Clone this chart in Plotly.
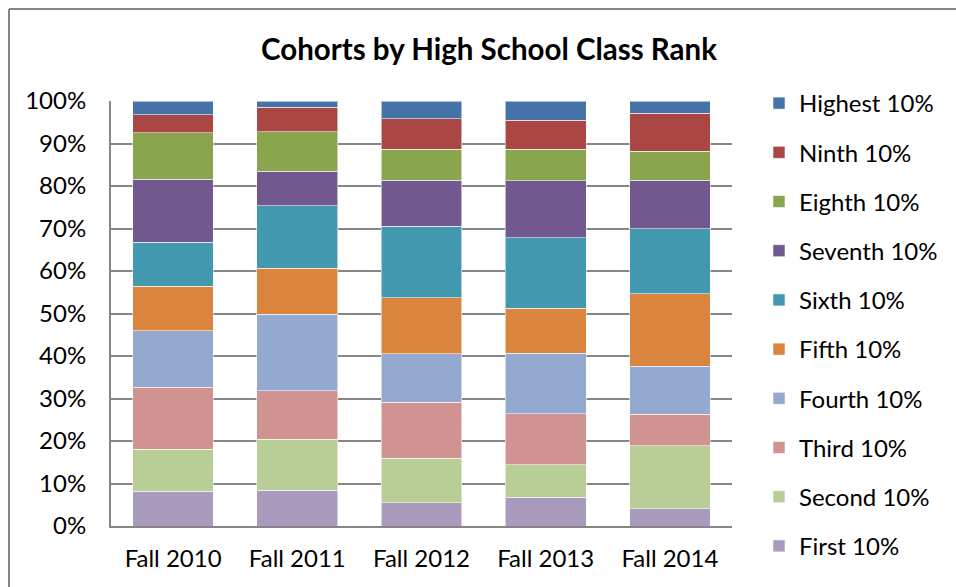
import plotly.graph_objects as go

categories = ["Fall 2010", "Fall 2011", "Fall 2012", "Fall 2013", "Fall 2014"]

first_10 = [8.2, 8.4, 5.5, 6.8, 4.1]
second_10 = [9.9, 12.0, 10.5, 7.6, 14.8]
third_10 = [14.5, 11.4, 13.1, 12.0, 7.4]
fourth_10 = [13.4, 18.0, 11.4, 14.2, 11.3]
fifth_10 = [10.4, 10.9, 13.2, 10.6, 17.1]
sixth_10 = [10.4, 14.6, 16.8, 16.6, 15.3]
seventh_10 = [14.8, 8.2, 10.8, 13.4, 11.3]
eighth_10 = [10.9, 9.3, 7.4, 7.5, 6.9]
ninth_10 = [4.3, 5.7, 7.1, 6.8, 8.9]
highest_10 = [3.2, 1.5, 4.2, 4.5, 2.9]

series_names = ["First 10%", "Second 10%", "Third 10%", "Fourth 10%", "Fifth 10%",
                "Sixth 10%", "Seventh 10%", "Eighth 10%", "Ninth 10%", "Highest 10%"]
series_values = [first_10, second_10, third_10, fourth_10, fifth_10,
                 sixth_10, seventh_10, eighth_10, ninth_10, highest_10]
series_colors = ["#A99BBD", "#B9CD96", "#D19392", "#93A9CF", "#DB843D",
                 "#4198AF", "#71588F", "#89A54E", "#AA4643", "#4572A7"]

y_ticks = [0, 10, 20, 30, 40, 50, 60, 70, 80, 90, 100]
y_tick_labels = [f"{v}%" for v in y_ticks]

FONT = "Lato"

fig = go.Figure()
n = len(series_names)
for i, (name, vals, col) in enumerate(zip(series_names, series_values, series_colors)):
    fig.add_trace(go.Bar(
        x=categories, y=vals, name=name, legendgroup=name, legendrank=n - i,
        marker=dict(color=col, line=dict(color="rgba(255,255,255,0.55)", width=1)),
    ))

# body margin is removed by the post script, so figure coords == page coords
W, H = 956, 587
L, T = 111, 101
pw, ph = 621, 425
R = W - L - pw
B = H - T - ph
bottom = T + ph

border = dict(color="#868686", width=2)

fig.update_layout(
    width=W, height=H,
    margin=dict(l=L, r=R, t=T, b=B, autoexpand=False),
    barmode="stack", bargap=0.35,
    plot_bgcolor="white", paper_bgcolor="white",
    font=dict(family=FONT, size=24, color="black"),
    title=dict(text="<b>Cohorts by High School Class Rank</b>",
               font=dict(family=FONT, size=29.5, color="black"),
               x=489 / W, xanchor="center", xref="container",
               y=1 - 50 / H, yanchor="middle", yref="container"),
    legend=dict(x=(759 - L) / pw, xanchor="left", y=(bottom - 81) / ph, yanchor="top",
                traceorder="grouped", tracegroupgap=15, maxheight=600,
                font=dict(family=FONT, size=24, color="black"),
                bgcolor="rgba(0,0,0,0)"),
    showlegend=True,
    xaxis=dict(showline=True, linecolor="#868686", linewidth=2,
               ticks="", tickfont=dict(family=FONT, size=24, color="black"),
               ticklabelstandoff=10),
    yaxis=dict(range=[0, 100], tickvals=y_ticks, ticktext=y_tick_labels,
               showline=True, linecolor="#868686", linewidth=2,
               showgrid=True, gridcolor="#868686", gridwidth=2,
               ticks="", tickfont=dict(family=FONT, size=24, color="black"),
               ticklabelstandoff=18, zeroline=False),
    shapes=[
        dict(type="line", xref="paper", yref="paper",
             x0=(9 - L) / pw, x1=(9 - L) / pw,
             y0=(bottom - H) / ph, y1=(bottom - 9) / ph,
             line=border, layer="below"),
        dict(type="line", xref="paper", yref="paper",
             x0=(9 - L) / pw, x1=(W - L) / pw,
             y0=(bottom - 9) / ph, y1=(bottom - 9) / ph,
             line=border, layer="below"),
    ],
)

fig.write_html(
    "out.html",
    config={"displayModeBar": False},
    post_script="document.body.style.margin='0';"
                "document.body.style.overflow='hidden';"
                "document.documentElement.style.overflow='hidden';",
)
